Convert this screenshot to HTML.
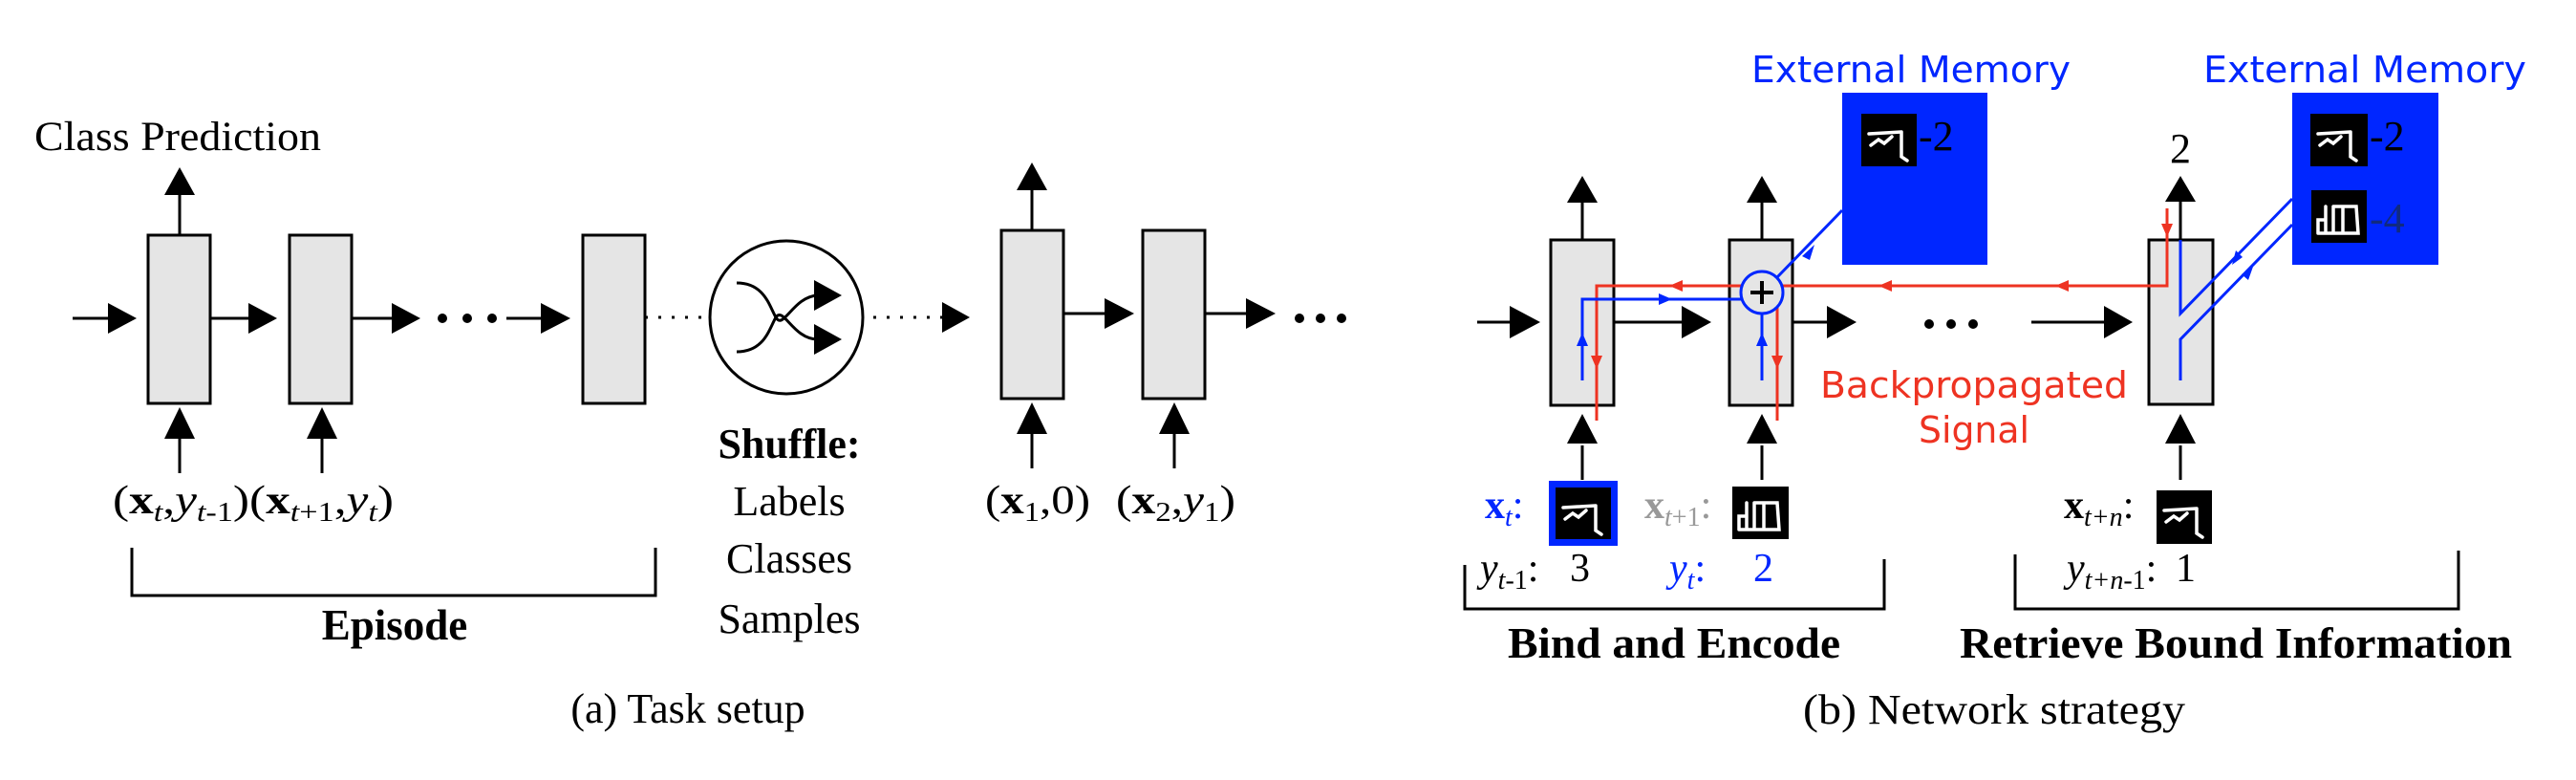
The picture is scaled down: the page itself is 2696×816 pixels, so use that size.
<!DOCTYPE html>
<html><head><meta charset="utf-8"><style>
html,body{margin:0;padding:0;background:#fff;}
svg{display:block;}
.s{font-family:"Liberation Serif",serif;}
.ss{font-family:"DejaVu Sans","Liberation Sans",sans-serif;}
</style></head><body>
<svg width="2696" height="816" viewBox="0 0 2696 816" xmlns="http://www.w3.org/2000/svg">
<g stroke="#000" stroke-width="3" fill="none">
<!-- left boxes -->
<rect x="155" y="246" width="65" height="176" fill="#e5e5e5"/>
<rect x="303" y="246" width="65" height="176" fill="#e5e5e5"/>
<rect x="610" y="246" width="65" height="176" fill="#e5e5e5"/>
<rect x="1048" y="241" width="65" height="176" fill="#e5e5e5"/>
<rect x="1196" y="241" width="65" height="176" fill="#e5e5e5"/>
<!-- horizontal lines -->
<line x1="76" y1="333" x2="120" y2="333"/>
<line x1="220" y1="333" x2="266" y2="333"/>
<line x1="368" y1="333" x2="414" y2="333"/>
<line x1="530" y1="333" x2="570" y2="333"/>
<line x1="1113" y1="328" x2="1160" y2="328"/>
<line x1="1261" y1="328" x2="1306" y2="328"/>
<!-- vertical -->
<line x1="188" y1="246" x2="188" y2="200"/>
<line x1="1080" y1="241" x2="1080" y2="195"/>
<line x1="188" y1="455" x2="188" y2="495"/>
<line x1="337" y1="455" x2="337" y2="495"/>
<line x1="1080" y1="450" x2="1080" y2="490"/>
<line x1="1229" y1="450" x2="1229" y2="490"/>
<!-- bracket -->
<polyline points="138,573 138,623 686,623 686,573"/>
<!-- shuffle -->
<circle cx="823" cy="332" r="80"/>
<path d="M771 296 C800 296 805 320 812 332 C820 346 830 310 856 309"/>
<path d="M771 368 C800 368 805 344 812 332 C820 320 830 355 856 355"/>
<line x1="675" y1="332" x2="743" y2="332" stroke-dasharray="3 11"/>
<line x1="914" y1="332" x2="986" y2="332" stroke-dasharray="3 11"/>
</g>
<g fill="#000">
<polygon points="113,317 143,333 113,349"/>
<polygon points="260,317 290,333 260,349"/>
<polygon points="410,317 440,333 410,349"/>
<polygon points="566,317 597,333 566,349"/>
<polygon points="1156,312 1187,328 1156,344"/>
<polygon points="1304,312 1335,328 1304,344"/>
<polygon points="986,316 1015,332 986,348"/>
<polygon points="852,293 881,309 852,325"/>
<polygon points="852,339 881,355 852,371"/>
<circle cx="463" cy="333" r="5"/><circle cx="489" cy="333" r="5"/><circle cx="515" cy="333" r="5"/>
<circle cx="1360" cy="333" r="5"/><circle cx="1382" cy="333" r="5"/><circle cx="1404" cy="333" r="5"/>
<polygon points="172,204 188,175 204,204"/>
<polygon points="1064,199 1080,170 1096,199"/>
<polygon points="172,459 188,426 204,459"/>
<polygon points="321,459 337,426 353,459"/>
<polygon points="1064,454 1080,421 1096,454"/>
<polygon points="1213,454 1229,421 1245,454"/>
</g>
<g class="s" fill="#000">
<text x="36" y="157" font-size="43" textLength="300" lengthAdjust="spacingAndGlyphs">Class Prediction</text>
<text x="118" y="537" font-size="42" textLength="294" lengthAdjust="spacingAndGlyphs">(<tspan font-weight="bold">x</tspan><tspan font-size="28" font-style="italic" dy="8">t</tspan><tspan dy="-8">,</tspan><tspan font-style="italic">y</tspan><tspan font-size="28" dy="8"><tspan font-style="italic">t</tspan>-1</tspan><tspan dy="-8">)(</tspan><tspan font-weight="bold">x</tspan><tspan font-size="28" dy="8"><tspan font-style="italic">t</tspan>+1</tspan><tspan dy="-8">,</tspan><tspan font-style="italic">y</tspan><tspan font-size="28" font-style="italic" dy="8">t</tspan><tspan dy="-8">)</tspan></text>
<text x="1031" y="537" font-size="42" textLength="110" lengthAdjust="spacingAndGlyphs">(<tspan font-weight="bold">x</tspan><tspan font-size="28" dy="8">1</tspan><tspan dy="-8">,0)</tspan></text>
<text x="1168" y="537" font-size="42" textLength="125" lengthAdjust="spacingAndGlyphs">(<tspan font-weight="bold">x</tspan><tspan font-size="28" dy="8">2</tspan><tspan dy="-8">,</tspan><tspan font-style="italic">y</tspan><tspan font-size="28" dy="8">1</tspan><tspan dy="-8">)</tspan></text>
<text x="413" y="669" font-size="45" font-weight="bold" text-anchor="middle">Episode</text>
<text x="826" y="479" font-size="44" font-weight="bold" text-anchor="middle">Shuffle:</text>
<text x="826" y="539" font-size="44" text-anchor="middle">Labels</text>
<text x="826" y="599" font-size="44" text-anchor="middle">Classes</text>
<text x="826" y="662" font-size="44" text-anchor="middle">Samples</text>
<text x="720" y="756" font-size="44" text-anchor="middle">(a) Task setup</text>
</g>

<!-- RIGHT PANEL -->
<g stroke="#000" stroke-width="3" fill="none">
<rect x="1623" y="251" width="66" height="173" fill="#e5e5e5"/>
<rect x="1810" y="251" width="66" height="173" fill="#e5e5e5"/>
<rect x="2249" y="251" width="67" height="172" fill="#e5e5e5"/>
<line x1="1656" y1="251" x2="1656" y2="206"/>
<line x1="1844" y1="251" x2="1844" y2="206"/>
<line x1="2282" y1="251" x2="2282" y2="206"/>
<line x1="1656" y1="466" x2="1656" y2="502"/>
<line x1="1844" y1="466" x2="1844" y2="502"/>
<line x1="2282" y1="466" x2="2282" y2="502"/>
<line x1="1546" y1="337" x2="1585" y2="337"/>
<line x1="1689" y1="337" x2="1765" y2="337"/>
<line x1="1876" y1="337" x2="1915" y2="337"/>
<line x1="2126" y1="337" x2="2205" y2="337"/>
<polyline points="1533,591 1533,637 1972,637 1972,585"/>
<polyline points="2109,580 2109,637 2573,637 2573,576"/>
</g>
<g fill="#000">
<polygon points="1580,320 1612,337 1580,354"/>
<polygon points="1760,320 1791,337 1760,354"/>
<polygon points="1912,320 1943,337 1912,354"/>
<polygon points="2202,320 2232,337 2202,354"/>
<circle cx="2019" cy="339" r="5"/><circle cx="2042" cy="339" r="5"/><circle cx="2065" cy="339" r="5"/>
<polygon points="1640,212 1656,184 1672,212"/>
<polygon points="1828,212 1844,184 1860,212"/>
<polygon points="2266,211 2282,184 2298,211"/>
<polygon points="1640,464 1656,433 1672,464"/>
<polygon points="1828,464 1844,433 1860,464"/>
<polygon points="2266,464 2282,433 2298,464"/>
</g>
<!-- memories -->
<rect x="1928" y="97" width="152" height="180" fill="#0026ff"/>
<rect x="2399" y="97" width="153" height="180" fill="#0026ff"/>
<g fill="#000">
<rect x="1948" y="119" width="58" height="55"/>
<rect x="2418" y="119" width="60" height="55"/>
<rect x="2419" y="199" width="58" height="55"/>
<rect x="1621" y="503" width="72" height="68" fill="#0026ff"/>
<rect x="1628" y="510" width="58" height="54"/>
<rect x="1813" y="509" width="59" height="55"/>
<rect x="2257" y="513" width="58" height="56"/>
</g>
<g stroke="#fff" stroke-width="3.5" fill="none" stroke-linecap="round">
<path d="M1956 140 L1990 138 M1958 152 L1966 146 L1972 150 L1980 143 M1990 138 L1990 164 L1996 168"/>
<path d="M2426 140 L2460 138 M2428 152 L2436 146 L2442 150 L2450 143 M2460 138 L2460 164 L2466 168"/>
<path d="M1636 531 L1670 529 M1638 543 L1646 537 L1652 541 L1660 534 M1670 529 L1670 555 L1676 559"/>
<path d="M2265 534 L2299 532 M2267 546 L2275 540 L2281 544 L2289 537 M2299 532 L2299 558 L2305 562"/>
<path d="M2426 244 L2426 230 L2434 230 M2434 244 L2434 216 M2442 244 L2442 216 M2442 216 L2466 216 L2468 244 L2426 244 M2452 216 L2452 244"/>
<path d="M1820 554 L1820 540 L1828 540 M1828 554 L1828 526 M1836 554 L1836 526 M1836 526 L1860 526 L1862 554 L1820 554 M1846 526 L1846 554"/>
</g>
<g class="s" font-size="44">
<text x="2008" y="157" fill="#000">-2</text>
<text x="2480" y="157" fill="#000">-2</text>
<text x="2480" y="243" fill="#102a80">-4</text>
<text x="2282" y="170" fill="#000" text-anchor="middle">2</text>
</g>
<g class="ss" font-size="38" fill="#0026ff">
<text x="1833" y="86" textLength="334" lengthAdjust="spacingAndGlyphs">External Memory</text>
<text x="2306" y="86" textLength="338" lengthAdjust="spacingAndGlyphs">External Memory</text>
</g>
<g class="ss" font-size="38" fill="#ee3322">
<text x="1905" y="416" textLength="322" lengthAdjust="spacingAndGlyphs">Backpropagated</text>
<text x="2008" y="463" textLength="116" lengthAdjust="spacingAndGlyphs">Signal</text>
</g>
<!-- red signal -->
<g stroke="#ee3322" stroke-width="3" fill="none">
<polyline points="2268,218 2268,299 1671,299 1671,440"/>
<line x1="1860" y1="314" x2="1860" y2="440"/>
</g>
<g fill="#ee3322">
<polygon points="2262,234 2274,234 2268,248"/>
<polygon points="1665,372 1677,372 1671,386"/>
<polygon points="1854,372 1866,372 1860,386"/>
<polygon points="1747,299 1761,293 1761,305"/>
<polygon points="1966,299 1980,293 1980,305"/>
<polygon points="2151,299 2165,293 2165,305"/>
</g>
<!-- blue signal -->
<g stroke="#0026ff" stroke-width="3" fill="none">
<polyline points="1656,398 1656,313 1822,313"/>
<line x1="1844" y1="398" x2="1844" y2="328"/>
<circle cx="1844" cy="306" r="22" fill="#e5e5e5"/>
<line x1="1860" y1="290" x2="1928" y2="220"/>
<polyline points="2282,251 2282,328 2399,208"/>
<polyline points="2282,398 2282,355 2399,235"/>
</g>
<g stroke="#000" stroke-width="4">
<line x1="1832" y1="306" x2="1856" y2="306"/><line x1="1844" y1="294" x2="1844" y2="318"/>
</g>
<g fill="#0026ff">
<polygon points="1650,362 1662,362 1656,348"/>
<polygon points="1838,362 1850,362 1844,348"/>
<polygon points="1736,307 1750,313 1736,319"/>
<polygon points="1886,268 1899,256 1894,272"/>
<polygon points="2336,277 2340,262 2347,269"/>
<polygon points="2358,279 2353,293 2346,287"/>
</g>
<!-- bottom labels -->
<g class="s" font-size="42">
<text x="1554" y="542" fill="#0026ff"><tspan font-weight="bold">x</tspan><tspan font-size="28" font-style="italic" dy="8">t</tspan><tspan dy="-8">:</tspan></text>
<text x="1721" y="542" fill="#999"><tspan font-weight="bold">x</tspan><tspan font-size="28" dy="8"><tspan font-style="italic">t</tspan>+1</tspan><tspan dy="-8">:</tspan></text>
<text x="2160" y="542" fill="#000"><tspan font-weight="bold">x</tspan><tspan font-size="28" font-style="italic" dy="8">t+n</tspan><tspan dy="-8">:</tspan></text>
<text x="1549" y="608" fill="#000"><tspan font-style="italic">y</tspan><tspan font-size="28" dy="8"><tspan font-style="italic">t</tspan>-1</tspan><tspan dy="-8">:</tspan></text>
<text x="1643" y="608" fill="#000">3</text>
<text x="1747" y="608" fill="#0026ff"><tspan font-style="italic">y</tspan><tspan font-size="28" font-style="italic" dy="8">t</tspan><tspan dy="-8">:</tspan></text>
<text x="1835" y="608" fill="#0026ff">2</text>
<text x="2163" y="608" fill="#000"><tspan font-style="italic">y</tspan><tspan font-size="28" dy="8"><tspan font-style="italic">t+n</tspan>-1</tspan><tspan dy="-8">:</tspan></text>
<text x="2277" y="608" fill="#000">1</text>
</g>
<g class="s" fill="#000">
<text x="1752" y="688" font-size="46" font-weight="bold" text-anchor="middle" textLength="348" lengthAdjust="spacingAndGlyphs">Bind and Encode</text>
<text x="2340" y="688" font-size="46" font-weight="bold" text-anchor="middle" textLength="578" lengthAdjust="spacingAndGlyphs">Retrieve Bound Information</text>
<text x="2087" y="757" font-size="44" text-anchor="middle" textLength="400" lengthAdjust="spacingAndGlyphs">(b) Network strategy</text>
</g>
</svg>
</body></html>
